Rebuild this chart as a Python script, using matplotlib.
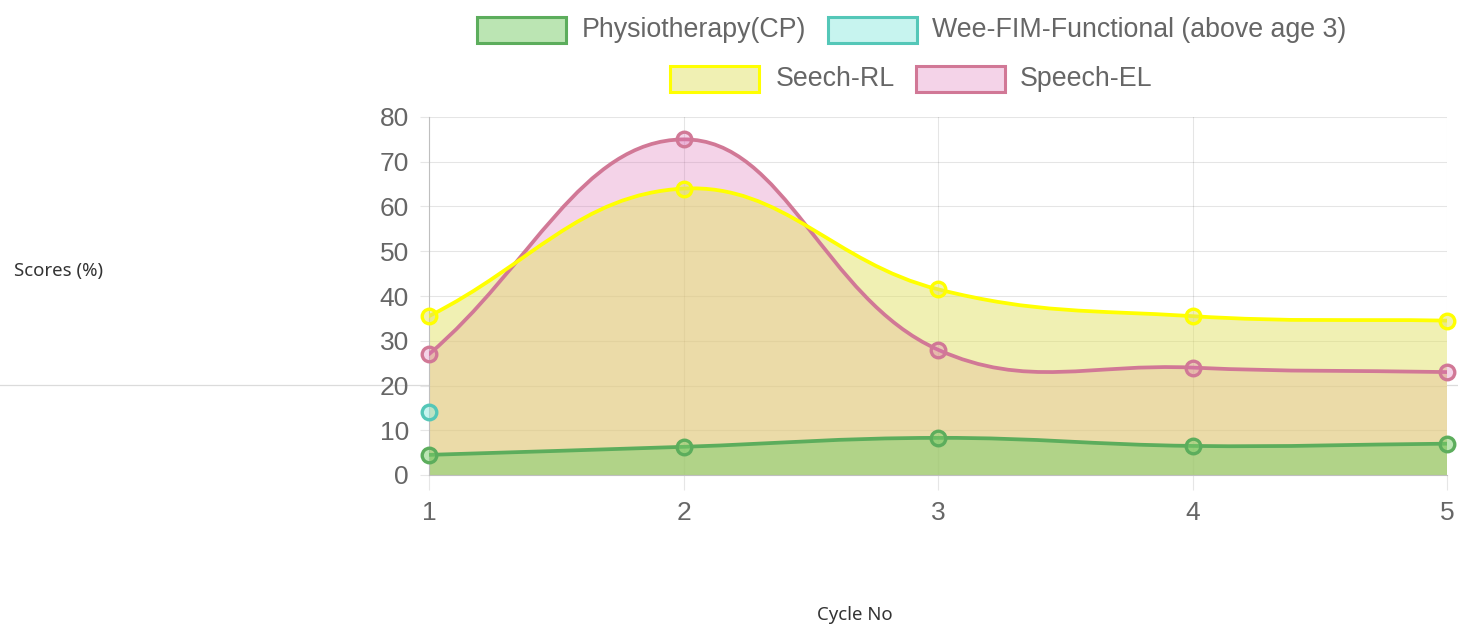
import numpy as np
import matplotlib.pyplot as plt
from matplotlib.path import Path
from matplotlib.patches import PathPatch, Rectangle
from matplotlib.lines import Line2D

W, H = 1458, 628

cycles = [1, 2, 3, 4, 5]
physio = [4.5, 6.3, 8.3, 6.5, 7]
weefim = [14, None, None, None, None]
speech_rl = [35.5, 64, 41.5, 35.5, 34.5]
speech_el = [27, 75, 28, 24, 23]
labels = ['Physiotherapy(CP)', 'Wee-FIM-Functional (above age 3)', 'Seech-RL', 'Speech-EL']
y_ticks = [0, 10, 20, 30, 40, 50, 60, 70, 80]

# border colour, fill colour (rgba)
styles = [
    ((0.36, 0.68, 0.36), (0.47, 0.80, 0.41, 0.5)),
    ((0.33, 0.78, 0.72), (0.57, 0.92, 0.88, 0.5)),
    ((1.0, 1.0, 0.0), (0.89, 0.89, 0.41, 0.5)),
    ((0.82, 0.47, 0.59), (0.86, 0.43, 0.71, 0.3)),
]
series = [physio, weefim, speech_rl, speech_el]

TICK_GREY = '#666666'


def spline_path(xs, ys, sx, sy, t=0.4):
    # chart.js style bezier (splineCurve + cap to chart area)
    n = len(xs)
    cps = []
    for i in range(n):
        p0 = (xs[max(i - 1, 0)], ys[max(i - 1, 0)])
        p1 = (xs[i], ys[i])
        p2 = (xs[min(i + 1, n - 1)], ys[min(i + 1, n - 1)])
        d01 = np.hypot((p1[0] - p0[0]) * sx, (p1[1] - p0[1]) * sy)
        d12 = np.hypot((p2[0] - p1[0]) * sx, (p2[1] - p1[1]) * sy)
        tot = d01 + d12
        s01 = d01 / tot if tot else 0
        s12 = d12 / tot if tot else 0
        fa, fb = t * s01, t * s12
        cprev = (p1[0] - fa * (p2[0] - p0[0]), p1[1] - fa * (p2[1] - p0[1]))
        cnext = (p1[0] + fb * (p2[0] - p0[0]), p1[1] + fb * (p2[1] - p0[1]))
        cap = lambda c: (min(max(c[0], 1), 5), min(max(c[1], 0), 80))
        cps.append((cap(cprev), cap(cnext)))
    verts = [(xs[0], ys[0])]
    codes = [Path.MOVETO]
    for i in range(n - 1):
        verts += [cps[i][1], cps[i + 1][0], (xs[i + 1], ys[i + 1])]
        codes += [Path.CURVE4] * 3
    return verts, codes


fig = plt.figure(figsize=(W / 100, H / 100), dpi=100)
left, right, top, bottom = 429, 1447, 117, 475
ax = fig.add_axes([left / W, 1 - bottom / H, (right - left) / W, (bottom - top) / H])
ax.set_xlim(1, 5)
ax.set_ylim(0, 80)
sx = (right - left) / 4
sy = (bottom - top) / 80

# line across page at the 20 mark
fig.add_artist(Line2D([0, 1], [1 - 385 / H] * 2, transform=fig.transFigure,
                      color=(0.86, 0.86, 0.86), lw=0.9, zorder=0))

# fills first (all under the lines), last dataset at the bottom
for k in range(len(series) - 1, -1, -1):
    vals = series[k]
    edge, fill = styles[k]
    xs = [c for c, v in zip(cycles, vals) if v is not None]
    ys = [v for v in vals if v is not None]
    if len(xs) > 1:
        verts, codes = spline_path(xs, ys, sx, sy)
        fverts = verts + [(xs[-1], 0), (xs[0], 0), (xs[0], ys[0])]
        fcodes = codes + [Path.LINETO, Path.LINETO, Path.CLOSEPOLY]
        ax.add_patch(PathPatch(Path(fverts, fcodes), facecolor=fill, edgecolor='none', zorder=2 + 0.1 * (4 - k)))

for k in range(len(series) - 1, -1, -1):
    vals = series[k]
    edge, fill = styles[k]
    z = 5 + (4 - k)
    xs = [c for c, v in zip(cycles, vals) if v is not None]
    ys = [v for v in vals if v is not None]
    if len(xs) > 1:
        verts, codes = spline_path(xs, ys, sx, sy)
        ax.add_patch(PathPatch(Path(verts, codes), facecolor='none', edgecolor=edge,
                               lw=2.7, zorder=z, capstyle='round', joinstyle='round'))
    ax.plot(xs, ys, 'o', ms=10.5, mec=edge, mfc=fill, mew=2.4, zorder=z + 0.2, clip_on=False)

ax.set_xticks(cycles)
ax.set_yticks(y_ticks)
ax.grid(True, color='black', alpha=0.1, lw=0.8)
ax.set_axisbelow(True)
for s in ['top', 'right']:
    ax.spines[s].set_visible(False)
for s in ['left', 'bottom']:
    ax.spines[s].set_color('#bfbfbf')
    ax.spines[s].set_linewidth(0.8)
ax.tick_params(axis='y', length=6.5, width=0.8, color='#e6e6e6', pad=8,
               labelsize=19, labelcolor=TICK_GREY)
ax.tick_params(axis='x', length=11, width=0.8, color='#e6e6e6', pad=8,
               labelsize=19, labelcolor=TICK_GREY)
for lab in ax.get_xticklabels() + ax.get_yticklabels():
    lab.set_family('Liberation Sans')

# legend, chart.js style
legend_items = [(477, 30, 582), (828, 30, 932), (670, 79, 776), (916, 79, 1020)]
for k, (bx, cy, tx) in enumerate(legend_items):
    edge, fill = styles[k]
    fig.add_artist(Rectangle((bx / W, 1 - (cy + 13) / H), 89 / W, 26 / H,
                             transform=fig.transFigure, facecolor=fill, edgecolor=edge, lw=2.2))
    fig.text(tx / W, 1 - cy / H, labels[k], ha='left', va='center', fontsize=19.3,
             color=TICK_GREY, family='Liberation Sans')

fig.text(14 / W, 1 - 271 / H, 'Scores (%)', ha='left', va='center', fontsize=13.4,
         color='#333333', family='Noto Sans')
fig.text(855 / W, 1 - 615 / H, 'Cycle No', ha='center', va='center', fontsize=13.4,
         color='#333333', family='Noto Sans')

fig.savefig('out.png', dpi=100)
